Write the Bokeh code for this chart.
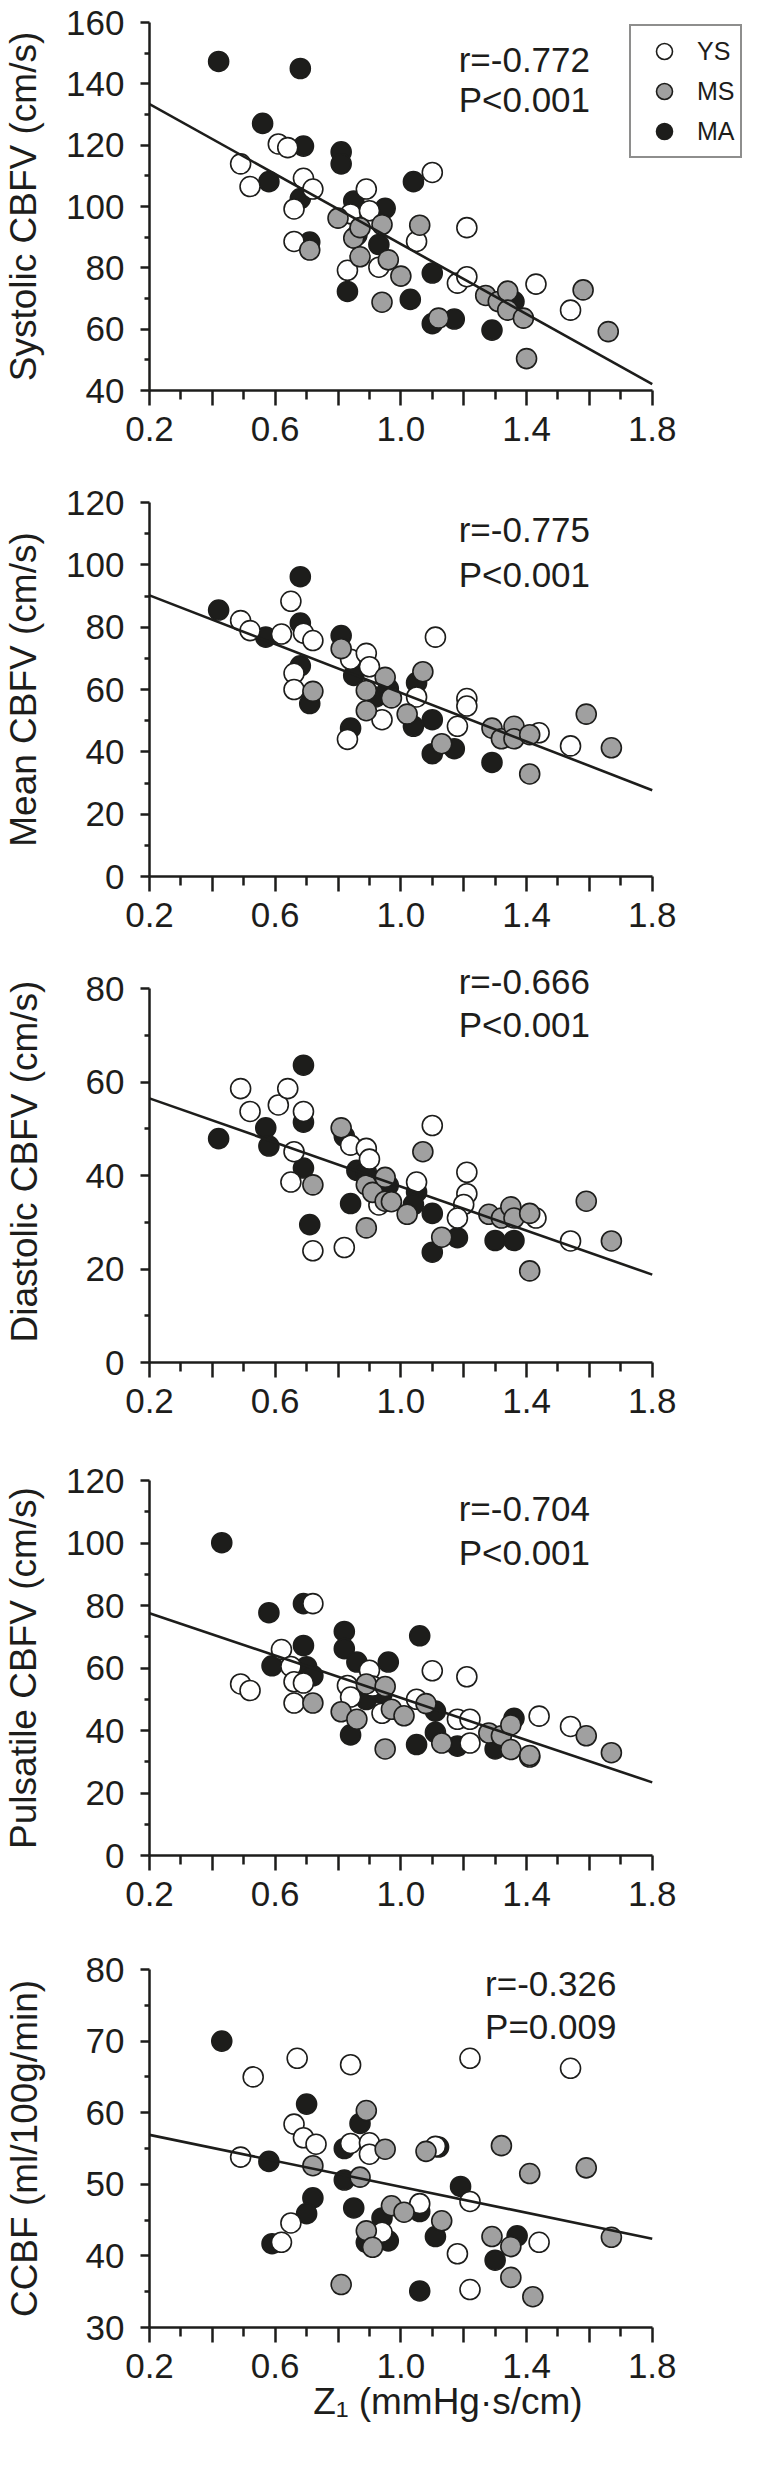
from bokeh.plotting import figure
from bokeh.models import FixedTicker, Range1d, Label, Legend, LegendItem, LinearAxis
from bokeh.layouts import column
from bokeh.embed import file_html
from bokeh.resources import INLINE

# ---------------- data ----------------
GROUPS = ["YS", "MS", "MA"]

X_TICKS = [0.2, 0.4, 0.6, 0.8, 1.0, 1.2, 1.4, 1.6, 1.8]
X_MINOR = [0.3, 0.5, 0.7, 0.9, 1.1, 1.3, 1.5, 1.7]
X_LABELS = {0.2: "0.2", 0.4: "", 0.6: "0.6", 0.8: "", 1.0: "1.0", 1.2: "", 1.4: "1.4", 1.6: "", 1.8: "1.8"}
X_TITLE = "Z\u2081 (mmHg\u00b7s/cm)"
FIT_X = [0.2, 1.8]

# Systolic CBFV
SYS_YS_X = [0.49, 0.52, 0.61, 0.64, 0.69, 0.72, 0.66, 0.66, 0.89, 0.84, 0.90, 0.83, 0.93, 1.05, 1.10, 1.21, 1.18, 1.21, 1.43, 1.54]
SYS_YS_Y = [113.9, 106.5, 120.4, 119.2, 109.2, 105.7, 99.2, 88.6, 105.7, 97.6, 98.6, 79.2, 80.2, 88.6, 111.1, 93.1, 75.0, 77.1, 74.7, 66.2]
SYS_MS_X = [0.71, 0.80, 0.85, 0.87, 0.87, 0.94, 0.96, 1.00, 0.94, 1.06, 1.12, 1.27, 1.31, 1.34, 1.34, 1.39, 1.40, 1.58, 1.66]
SYS_MS_Y = [85.8, 96.2, 89.7, 93.1, 83.6, 94.1, 82.6, 77.3, 68.8, 93.9, 63.6, 71.0, 69.0, 72.4, 66.2, 63.6, 50.4, 72.8, 59.2]
SYS_MA_X = [0.42, 0.68, 0.56, 0.69, 0.81, 0.81, 0.58, 0.68, 0.85, 0.95, 0.71, 0.93, 0.86, 1.04, 0.83, 1.03, 1.10, 1.10, 1.17, 1.29, 1.36]
SYS_MA_Y = [147.3, 145.0, 127.1, 119.7, 117.8, 113.9, 108.1, 102.6, 101.8, 99.4, 88.4, 87.6, 90.7, 108.1, 72.3, 69.7, 78.3, 61.8, 63.3, 59.7, 69.0]
SYS_FIT = [133.4, 42.1]
SYS_TICKS = [40, 60, 80, 100, 120, 140, 160]
SYS_MINOR = [50, 70, 90, 110, 130, 150]
SYS_STATS = ["r=-0.772", "P<0.001"]

# Mean CBFV
MEAN_YS_X = [0.49, 0.52, 0.62, 0.65, 0.69, 0.72, 0.66, 0.66, 0.84, 0.89, 0.90, 0.83, 0.94, 1.05, 1.11, 1.21, 1.21, 1.18, 1.44, 1.54]
MEAN_YS_Y = [82.1, 78.9, 77.8, 88.3, 78.1, 75.7, 65.2, 60.0, 69.7, 71.6, 67.3, 44.0, 50.3, 57.6, 76.8, 57.1, 54.7, 48.2, 46.1, 41.9]
MEAN_MS_X = [0.72, 0.81, 0.89, 0.89, 0.95, 0.97, 1.02, 1.07, 1.13, 1.29, 1.32, 1.36, 1.36, 1.41, 1.41, 1.59, 1.67]
MEAN_MS_Y = [59.4, 73.1, 59.7, 53.2, 63.9, 57.3, 52.1, 65.7, 42.6, 47.6, 44.2, 48.2, 44.2, 45.5, 32.9, 52.1, 41.3]
MEAN_MA_X = [0.42, 0.68, 0.57, 0.68, 0.68, 0.71, 0.81, 0.85, 0.84, 0.92, 0.96, 1.05, 1.04, 1.10, 1.10, 1.17, 1.29]
MEAN_MA_Y = [85.5, 96.2, 76.8, 81.3, 67.6, 55.5, 77.3, 64.5, 47.6, 57.6, 60.3, 62.2, 48.2, 50.3, 39.4, 41.0, 36.6]
MEAN_FIT = [90.2, 27.7]
MEAN_TICKS = [0, 20, 40, 60, 80, 100, 120]
MEAN_MINOR = [10, 30, 50, 70, 90, 110]
MEAN_STATS = ["r=-0.775", "P<0.001"]

# Diastolic CBFV
DIA_YS_X = [0.49, 0.52, 0.61, 0.64, 0.69, 0.66, 0.65, 0.72, 0.82, 0.84, 0.89, 0.90, 0.93, 1.05, 1.10, 1.21, 1.21, 1.20, 1.18, 1.43, 1.54]
DIA_YS_Y = [58.6, 53.7, 55.1, 58.6, 53.7, 45.1, 38.6, 23.9, 24.6, 46.5, 45.8, 43.5, 33.7, 38.6, 50.7, 40.7, 36.1, 33.8, 30.9, 30.9, 26.0]
DIA_MS_X = [0.72, 0.81, 0.89, 0.91, 0.89, 0.95, 0.95, 0.97, 1.02, 1.07, 1.13, 1.28, 1.32, 1.35, 1.36, 1.41, 1.41, 1.59, 1.67]
DIA_MS_Y = [38.0, 50.2, 38.0, 36.4, 28.8, 39.6, 34.5, 34.4, 31.7, 45.1, 26.8, 31.7, 30.9, 33.3, 30.9, 31.9, 19.6, 34.5, 26.0]
DIA_MA_X = [0.42, 0.57, 0.58, 0.69, 0.69, 0.69, 0.71, 0.82, 0.86, 0.89, 0.84, 0.96, 1.05, 1.04, 1.10, 1.10, 1.18, 1.30, 1.36]
DIA_MA_Y = [47.9, 50.2, 46.3, 63.6, 51.4, 41.6, 29.5, 48.4, 41.1, 40.7, 34.0, 37.9, 36.5, 33.8, 31.9, 23.6, 26.7, 26.1, 26.1]
DIA_FIT = [56.5, 18.8]
DIA_TICKS = [0, 20, 40, 60, 80]
DIA_MINOR = [10, 30, 50, 70]
DIA_STATS = ["r=-0.666", "P<0.001"]

# Pulsatile CBFV
PUL_YS_X = [0.49, 0.52, 0.62, 0.65, 0.66, 0.66, 0.69, 0.72, 0.83, 0.84, 0.90, 0.91, 0.94, 1.05, 1.10, 1.18, 1.22, 1.22, 1.21, 1.44, 1.54, 1.41]
PUL_YS_Y = [54.9, 52.8, 65.9, 60.5, 55.6, 48.8, 55.2, 80.6, 54.4, 50.7, 59.3, 54.2, 45.5, 50.0, 59.1, 43.6, 43.6, 36.0, 57.2, 44.6, 41.3, 31.5]
PUL_MS_X = [0.72, 0.81, 0.86, 0.89, 0.95, 0.97, 1.01, 0.95, 1.08, 1.13, 1.28, 1.32, 1.35, 1.35, 1.41, 1.59, 1.67]
PUL_MS_Y = [48.8, 46.0, 43.6, 54.9, 54.1, 46.8, 44.7, 34.1, 48.6, 36.0, 39.2, 38.3, 41.8, 33.9, 32.0, 38.3, 32.9]
PUL_MA_X = [0.43, 0.58, 0.59, 0.69, 0.69, 0.70, 0.72, 0.82, 0.82, 0.86, 0.96, 0.89, 0.94, 0.84, 1.06, 1.05, 1.11, 1.11, 1.18, 1.30, 1.36]
PUL_MA_Y = [100.1, 77.7, 60.7, 80.6, 67.2, 60.4, 57.5, 71.7, 66.2, 61.9, 61.9, 49.9, 51.8, 38.6, 70.3, 35.5, 46.2, 39.4, 35.0, 34.1, 43.9]
PUL_FIT = [77.5, 23.4]
PUL_TICKS = [0, 20, 40, 60, 80, 100, 120]
PUL_MINOR = [10, 30, 50, 70, 90, 110]
PUL_STATS = ["r=-0.704", "P<0.001"]

# CCBF
CBF_YS_X = [0.49, 0.53, 0.62, 0.65, 0.66, 0.67, 0.69, 0.73, 0.84, 0.84, 0.90, 0.90, 0.94, 1.06, 1.11, 1.18, 1.22, 1.22, 1.22, 1.44, 1.54]
CBF_YS_Y = [53.8, 65.0, 41.9, 44.6, 58.4, 67.6, 56.5, 55.6, 66.7, 55.7, 55.8, 54.2, 43.3, 47.3, 55.3, 40.3, 67.6, 47.6, 35.3, 41.9, 66.2]
CBF_MS_X = [0.72, 0.81, 0.89, 0.87, 0.89, 0.91, 0.95, 0.97, 1.01, 1.08, 1.13, 1.29, 1.32, 1.35, 1.35, 1.41, 1.42, 1.59, 1.67]
CBF_MS_Y = [52.6, 36.0, 60.3, 51.0, 43.5, 41.2, 54.9, 47.0, 46.1, 54.6, 44.9, 42.7, 55.4, 41.3, 37.0, 51.5, 34.3, 52.3, 42.6]
CBF_MA_X = [0.43, 0.58, 0.59, 0.70, 0.72, 0.70, 0.82, 0.82, 0.87, 0.85, 0.94, 0.89, 0.96, 1.06, 1.06, 1.11, 1.12, 1.19, 1.30, 1.37]
CBF_MA_Y = [70.0, 53.2, 41.7, 61.2, 48.1, 45.9, 55.0, 50.6, 58.5, 46.7, 45.3, 41.9, 42.1, 46.2, 35.1, 42.7, 55.2, 49.7, 39.4, 42.8]
CBF_FIT = [56.9, 42.4]
CBF_TICKS = [30, 40, 50, 60, 70, 80]
CBF_MINOR = [35, 45, 55, 65, 75]
CBF_STATS = ["r=-0.326", "P=0.009"]

# ---------------- style ----------------
INK = "#1d1d1b"
FILLS = {"YS": "#ffffff", "MS": "#a0a0a0", "MA": "#1d1d1b"}
FONT = "Liberation Sans, Arial, sans-serif"
W = 746
LEFT = 144


def make_panel(title, series, fit, yticks, yminor, stats, stat_x, stat_y, height, top, frame_h,
               title_standoff, y_end=None, legend=False, xtitle=None):
    y_top = yticks[-1] if y_end is None else y_end
    p = figure(width=W, height=height, x_range=Range1d(0.2, 2.1),
               y_range=Range1d(yticks[0], y_top),
               output_backend="svg", toolbar_location=None,
               min_border_left=LEFT, min_border_right=0, min_border_top=top,
               min_border_bottom=height - top - frame_h)
    p.outline_line_color = None
    p.grid.visible = False
    p.background_fill_color = "white"
    p.border_fill_color = "white"

    xa = p.xaxis[0]
    xa.ticker = FixedTicker(ticks=X_TICKS, minor_ticks=X_MINOR)
    xa.major_label_overrides = X_LABELS
    xa.bounds = (0.2, 1.8)
    xa.axis_line_width = 2.5
    xa.axis_line_color = INK
    xa.major_tick_line_width = 2.5
    xa.minor_tick_line_width = 2.5
    xa.major_tick_line_color = INK
    xa.minor_tick_line_color = INK
    xa.major_tick_out = 15
    xa.major_tick_in = 0
    xa.minor_tick_out = 9
    xa.minor_tick_in = 0
    xa.major_label_text_font = FONT
    xa.major_label_text_font_size = "35px"
    xa.major_label_text_color = INK
    xa.major_label_standoff = 11

    ya = p.yaxis[0]
    ya.ticker = FixedTicker(ticks=yticks, minor_ticks=yminor)
    ya.bounds = (yticks[0], yticks[-1])
    ya.axis_line_width = 2.5
    ya.axis_line_color = INK
    ya.major_tick_line_width = 2.5
    ya.minor_tick_line_width = 2.5
    ya.major_tick_line_color = INK
    ya.minor_tick_line_color = INK
    ya.major_tick_out = 9
    ya.major_tick_in = 0
    ya.minor_tick_out = 5
    ya.minor_tick_in = 0
    ya.major_label_text_font = FONT
    ya.major_label_text_font_size = "35px"
    ya.major_label_text_color = INK
    ya.major_label_standoff = 16
    ya.axis_label = title
    ya.axis_label_text_font = FONT
    ya.axis_label_text_font_size = "37px"
    ya.axis_label_text_font_style = "normal"
    ya.axis_label_text_color = INK
    ya.axis_label_standoff = title_standoff

    renderers = {}
    for g in ["MA", "YS", "MS"]:
        xs, ys = series[g]
        renderers[g] = p.scatter(xs, ys, marker="circle", size=20, fill_color=FILLS[g],
                                 line_color=INK, line_width=1.6)

    p.line(FIT_X, fit, line_color=INK, line_width=2.6)

    for txt, sy in zip(stats, stat_y):
        p.add_layout(Label(x=stat_x, y=sy, text=txt, text_font=FONT, text_font_size="35px",
                           text_color=INK, text_baseline="middle", text_align="left"))

    if xtitle:
        # title-only axis, its bounds set so the title is centred where the reference has it
        ta = LinearAxis(ticker=FixedTicker(ticks=[]), bounds=(0.2, 1.942),
                        axis_line_color=None, major_tick_line_color=None,
                        minor_tick_line_color=None, major_label_text_font_size="0px",
                        axis_label=xtitle, axis_label_text_font=FONT,
                        axis_label_text_font_size="37px", axis_label_text_font_style="normal",
                        axis_label_text_color=INK, axis_label_standoff=0)
        p.add_layout(ta, "below")

    if legend:
        items = [LegendItem(label=g, renderers=[renderers[g]]) for g in GROUPS]
        lg = Legend(items=items, location=(480, frame_h + 30 - 166), orientation="vertical",
                    padding=5, spacing=0, margin=0, glyph_height=40, glyph_width=56,
                    label_standoff=5, label_width=38, label_height=40,
                    label_text_font=FONT, label_text_font_size="25px",
                    label_text_color=INK, label_text_baseline="middle",
                    border_line_color=INK, border_line_width=2.5,
                    background_fill_color="white", background_fill_alpha=1.0)
        p.add_layout(lg)
    return p


p1 = make_panel("Systolic CBFV (cm/s)",
                {"YS": (SYS_YS_X, SYS_YS_Y), "MS": (SYS_MS_X, SYS_MS_Y), "MA": (SYS_MA_X, SYS_MA_Y)},
                SYS_FIT, SYS_TICKS, SYS_MINOR, SYS_STATS, 1.184, [147.9, 134.9],
                480, 22, 368, 19, legend=True)
p2 = make_panel("Mean CBFV (cm/s)",
                {"YS": (MEAN_YS_X, MEAN_YS_Y), "MS": (MEAN_MS_X, MEAN_MS_Y), "MA": (MEAN_MA_X, MEAN_MA_Y)},
                MEAN_FIT, MEAN_TICKS, MEAN_MINOR, MEAN_STATS, 1.184, [111.4, 97.0],
                478, 22, 374, 19)
p3 = make_panel("Diastolic CBFV (cm/s)",
                {"YS": (DIA_YS_X, DIA_YS_Y), "MS": (DIA_MS_X, DIA_MS_Y), "MA": (DIA_MA_X, DIA_MA_Y)},
                DIA_FIT, DIA_TICKS, DIA_MINOR, DIA_STATS, 1.184, [81.6, 72.4],
                500, 2, 402, 38, y_end=86)
p4 = make_panel("Pulsatile CBFV (cm/s)",
                {"YS": (PUL_YS_X, PUL_YS_Y), "MS": (PUL_MS_X, PUL_MS_Y), "MA": (PUL_MA_X, PUL_MA_Y)},
                PUL_FIT, PUL_TICKS, PUL_MINOR, PUL_STATS, 1.184, [111.0, 97.0],
                489, 22, 375, 19)
p5 = make_panel("CCBF (ml/100g/min)",
                {"YS": (CBF_YS_X, CBF_YS_Y), "MS": (CBF_MS_X, CBF_MS_Y), "MA": (CBF_MA_X, CBF_MA_Y)},
                CBF_FIT, CBF_TICKS, CBF_MINOR, CBF_STATS, 1.268, [78.0, 72.1],
                503, 22, 358, 38, xtitle=X_TITLE)

layout = column(p1, p2, p3, p4, p5, spacing=0)
open("out.html", "w").write(file_html(layout, INLINE, title="Z1 correlations"))
